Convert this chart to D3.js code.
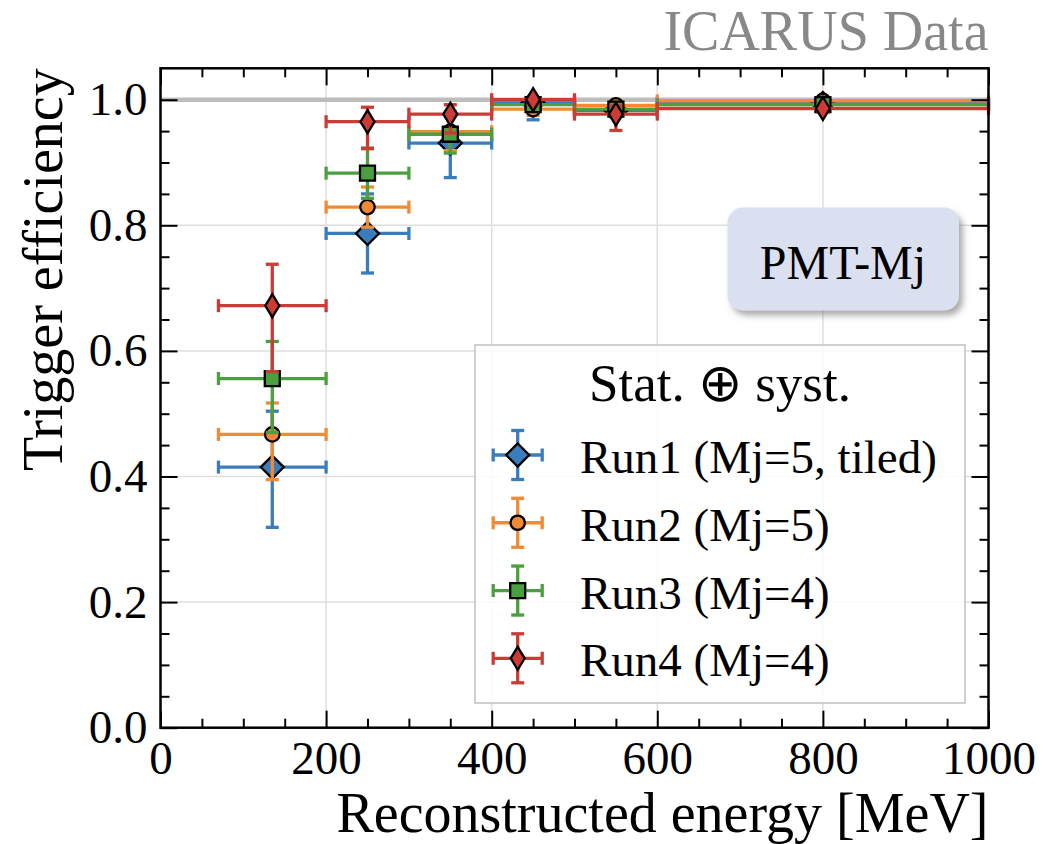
<!DOCTYPE html>
<html><head><meta charset="utf-8">
<script src="https://cdn.jsdelivr.net/npm/d3@7"></script>
<style>
body{margin:0;background:#fff}
text{font-family:"Liberation Serif","Times New Roman",serif}
</style>
</head><body>
<svg id="chart" width="1043" height="844"></svg>
<script>
// ---------- data ----------
const binCenters = [135, 250, 350, 450, 550, 800];
const binLow     = [70, 200, 300, 400, 500, 600];
const binHigh    = [200, 300, 400, 500, 600, 1000];

const run1Eff   = [0.415, 0.787, 0.931, 0.995, 0.983, 0.994];
const run1ErrLo = [0.096, 0.063, 0.055, 0.027, 0.010, 0.005];
const run1ErrHi = [0.089, 0.063, 0.050, 0.005, 0.010, 0.004];

const run2Eff   = [0.467, 0.829, 0.949, 0.985, 0.991, 0.998];
const run2ErrLo = [0.072, 0.032, 0.030, 0.010, 0.008, 0.004];
const run2ErrHi = [0.050, 0.032, 0.030, 0.010, 0.007, 0.002];

const run3Eff   = [0.556, 0.883, 0.945, 0.992, 0.985, 0.992];
const run3ErrLo = [0.086, 0.040, 0.030, 0.008, 0.008, 0.004];
const run3ErrHi = [0.059, 0.040, 0.030, 0.006, 0.008, 0.004];

const run4Eff   = [0.672, 0.965, 0.977, 1.000, 0.977, 0.986];
const run4ErrLo = [0.105, 0.043, 0.030, 0.008, 0.026, 0.006];
const run4ErrHi = [0.066, 0.023, 0.015, 0.000, 0.013, 0.006];

const seriesNames = ["Run1 (Mj=5, tiled)", "Run2 (Mj=5)", "Run3 (Mj=4)", "Run4 (Mj=4)"];
const xMajorTicks = [0, 200, 400, 600, 800, 1000];
const yMajorTicks = [0.0, 0.2, 0.4, 0.6, 0.8, 1.0];
const titleText = "ICARUS Data";
const xLabel = "Reconstructed energy [MeV]";
const yLabel = "Trigger efficiency";
const legendTitle = "Stat. \u2295 syst.";
const boxLabel = "PMT-Mj";

// ---------- styles ----------
const colors = ["#3a7dbd", "#f08a35", "#4a9f3f", "#cc3b36"];
const markers = ["D", "o", "s", "d"];

const series = seriesNames.map((name, i) => ({
  name, color: colors[i], marker: markers[i],
  eff: [run1Eff, run2Eff, run3Eff, run4Eff][i],
  lo: [run1ErrLo, run2ErrLo, run3ErrLo, run4ErrLo][i],
  hi: [run1ErrHi, run2ErrHi, run3ErrHi, run4ErrHi][i]
}));

const svg = d3.select("#chart");
svg.append("rect").attr("width", 1043).attr("height", 844).attr("fill", "#fff");

const L = 160.5, R = 988.5, T = 68.3, B = 727.7;
const x = d3.scaleLinear().domain([0, 1000]).range([L, R]);
const y = d3.scaleLinear().domain([0, 1.05]).range([B, T]);

const defs = svg.append("defs");
const f = defs.append("filter").attr("id", "shadow").attr("x", "-20%").attr("y", "-20%").attr("width", "150%").attr("height", "150%");
f.append("feDropShadow").attr("dx", 4).attr("dy", 5).attr("stdDeviation", 3)
  .attr("flood-color", "#666").attr("flood-opacity", 0.55);

// grid
const grid = svg.append("g");
grid.selectAll(".gx").data(xMajorTicks.filter(d => d > 0 && d < 1000)).join("line")
  .attr("x1", d => x(d)).attr("x2", d => x(d)).attr("y1", T).attr("y2", B)
  .attr("stroke", "#dedede").attr("stroke-width", 1.5);
grid.selectAll(".gy").data(yMajorTicks.filter(d => d > 0)).join("line")
  .attr("x1", L).attr("x2", R).attr("y1", d => y(d)).attr("y2", d => y(d))
  .attr("stroke", "#dedede").attr("stroke-width", 1.5);

// reference line at 1
svg.append("line").attr("x1", L).attr("x2", R).attr("y1", y(1)).attr("y2", y(1))
  .attr("stroke", "#bdbdbd").attr("stroke-width", 4.5);

// marker path
function markerPath(type, cx, cy) {
  if (type === "D") { const h = 11.5; return `M${cx},${cy-h}L${cx+h},${cy}L${cx},${cy+h}L${cx-h},${cy}Z`; }
  if (type === "d") { const h = 11.5, w = 7; return `M${cx},${cy-h}L${cx+w},${cy}L${cx},${cy+h}L${cx-w},${cy}Z`; }
  if (type === "s") { const h = 7.5; return `M${cx-h},${cy-h}H${cx+h}V${cy+h}H${cx-h}Z`; }
  const r = 7.2; return `M${cx-r},${cy}a${r},${r} 0 1,0 ${2*r},0a${r},${r} 0 1,0 ${-2*r},0Z`;
}

const cap = 6.5;
function drawErr(g, color, cx, cy, x0, x1, y0, y1) {
  const st = { stroke: color, "stroke-width": 3.3, fill: "none" };
  const add = (a, b, c, d) => { const l = g.append("line").attr("x1", a).attr("y1", b).attr("x2", c).attr("y2", d); Object.entries(st).forEach(([k, v]) => l.attr(k, v)); };
  add(x0, cy, x1, cy);
  add(cx, y0, cx, y1);
  add(x0, cy - cap, x0, cy + cap);
  add(x1, cy - cap, x1, cy + cap);
  add(cx - cap, y0, cx + cap, y0);
  add(cx - cap, y1, cx + cap, y1);
}

// data
const dataG = svg.append("g");
series.forEach(s => {
  const g = dataG.append("g");
  binCenters.forEach((c, i) => {
    const v = s.eff[i];
    drawErr(g, s.color, x(c), y(v), x(binLow[i]), x(binHigh[i]), y(v - s.lo[i]), y(v + s.hi[i]));
  });
  binCenters.forEach((c, i) => {
    g.append("path").attr("d", markerPath(s.marker, x(c), y(s.eff[i])))
      .attr("fill", s.color).attr("stroke", "#000").attr("stroke-width", 2.3);
  });
});

// axes (ticks inward on all sides)
function styleAxis(g) {
  g.select(".domain").remove();
  g.selectAll(".tick line").attr("stroke", "#000").attr("stroke-width", 2);
  g.selectAll("text").attr("font-size", 47).attr("fill", "#000")
    .attr("font-family", "'Liberation Serif','Times New Roman',serif");
}
const xMinor = d3.range(0, 1001, 50).filter(d => !xMajorTicks.includes(d));
const yMinor = d3.range(0, 21).map(d => +(d * 0.05).toFixed(2)).filter(d => !yMajorTicks.some(t => Math.abs(t - d) < 1e-9));

svg.append("g").attr("transform", `translate(0,${B})`)
  .call(d3.axisBottom(x).tickValues(xMajorTicks).tickSizeInner(-17).tickSizeOuter(0).tickPadding(13).tickFormat(d3.format("d"))).call(styleAxis);
svg.append("g").attr("transform", `translate(0,${B})`)
  .call(d3.axisBottom(x).tickValues(xMinor).tickSizeInner(-9).tickSizeOuter(0).tickFormat("")).call(styleAxis);
svg.append("g").attr("transform", `translate(0,${T})`)
  .call(d3.axisTop(x).tickValues(xMajorTicks).tickSizeInner(-17).tickSizeOuter(0).tickFormat("")).call(styleAxis);
svg.append("g").attr("transform", `translate(0,${T})`)
  .call(d3.axisTop(x).tickValues(xMinor).tickSizeInner(-9).tickSizeOuter(0).tickFormat("")).call(styleAxis);
svg.append("g").attr("transform", `translate(${L},0)`)
  .call(d3.axisLeft(y).tickValues(yMajorTicks).tickSizeInner(-17).tickSizeOuter(0).tickPadding(13).tickFormat(d3.format(".1f"))).call(styleAxis);
svg.append("g").attr("transform", `translate(${L},0)`)
  .call(d3.axisLeft(y).tickValues(yMinor).tickSizeInner(-9).tickSizeOuter(0).tickFormat("")).call(styleAxis);
svg.append("g").attr("transform", `translate(${R},0)`)
  .call(d3.axisRight(y).tickValues(yMajorTicks).tickSizeInner(-17).tickSizeOuter(0).tickFormat("")).call(styleAxis);
svg.append("g").attr("transform", `translate(${R},0)`)
  .call(d3.axisRight(y).tickValues(yMinor).tickSizeInner(-9).tickSizeOuter(0).tickFormat("")).call(styleAxis);

// frame
svg.append("rect").attr("x", L).attr("y", T).attr("width", R - L).attr("height", B - T)
  .attr("fill", "none").attr("stroke", "#000").attr("stroke-width", 2.5);

// PMT-Mj box
svg.append("rect").attr("x", 727.5).attr("y", 207.5).attr("width", 231.5).attr("height", 103)
  .attr("rx", 15).attr("ry", 15).attr("fill", "#dbe0f0").attr("filter", "url(#shadow)");
svg.append("text").attr("x", 843).attr("y", 278.5).attr("text-anchor", "middle")
  .attr("font-size", 48).attr("fill", "#000").text(boxLabel);

// legend
const lg = svg.append("g");
lg.append("rect").attr("x", 475).attr("y", 345).attr("width", 490).attr("height", 358)
  .attr("fill", "#fff").attr("fill-opacity", 0.82).attr("stroke", "#cfcfcf").attr("stroke-width", 2);
lg.append("text").attr("x", 720).attr("y", 401).attr("text-anchor", "middle")
  .attr("font-size", 53).attr("fill", "#000").text(legendTitle);
const rowY = d3.scaleLinear().domain([0, 3]).range([455, 658.3]);
series.forEach((s, i) => {
  const cy = rowY(i), cx = 517.7;
  const g = lg.append("g");
  drawErr(g, s.color, cx, cy, cx - 24.5, cx + 24.5, cy + 24.5, cy - 24.5);
  g.append("path").attr("d", markerPath(s.marker, cx, cy))
    .attr("fill", s.color).attr("stroke", "#000").attr("stroke-width", 2.3);
  lg.append("text").attr("x", 580).attr("y", cy + 18).attr("font-size", 47).attr("fill", "#000").text(s.name);
});

// labels
svg.append("text").attr("x", R).attr("y", 50).attr("text-anchor", "end")
  .attr("font-size", 56).attr("fill", "#888").text(titleText);
svg.append("text").attr("x", R).attr("y", 832).attr("text-anchor", "end")
  .attr("font-size", 56).attr("fill", "#000").text(xLabel);
svg.append("text").attr("transform", `translate(62,${T}) rotate(-90)`).attr("text-anchor", "end")
  .attr("font-size", 56).attr("fill", "#000").text(yLabel);
</script>
</body></html>
